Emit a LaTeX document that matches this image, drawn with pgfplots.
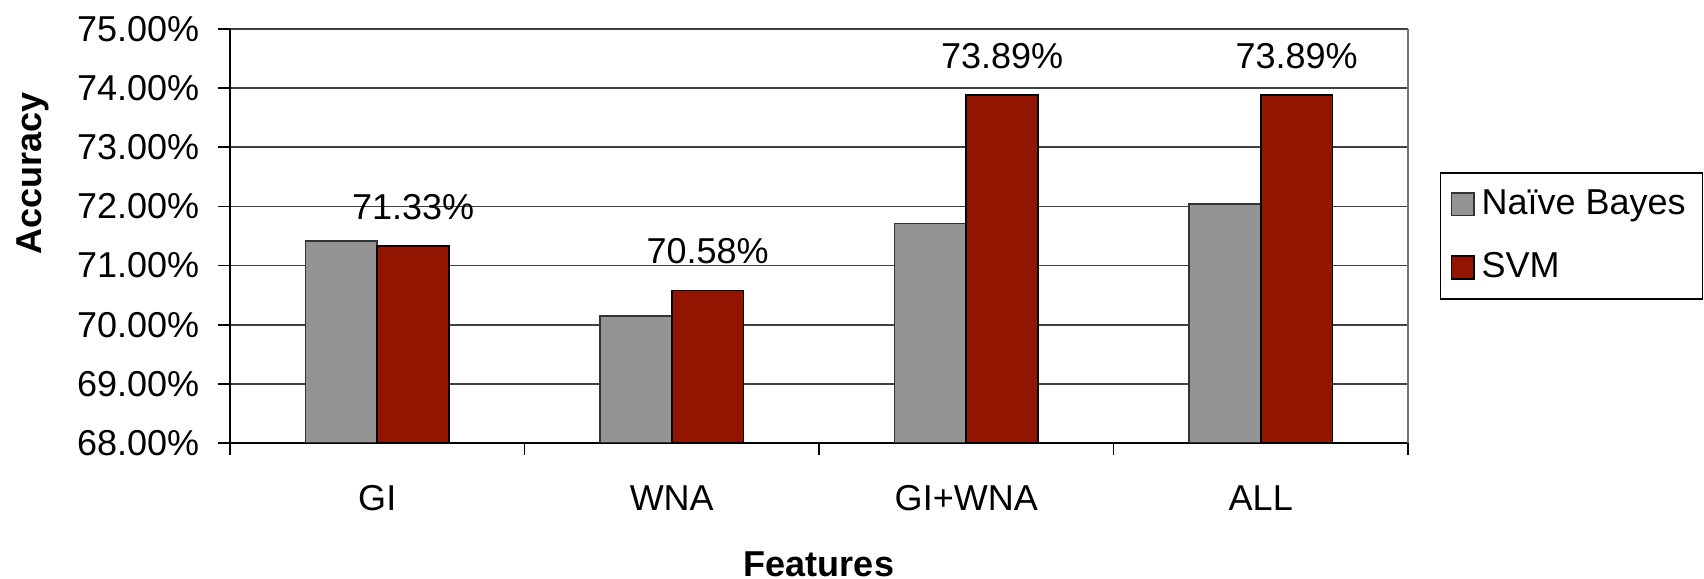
\documentclass[border=0pt]{standalone}
\usepackage{pgfplots}
\pgfplotsset{compat=1.18}
\usepackage{fontspec}
\setmainfont{Liberation Sans}
\definecolor{nbgray}{RGB}{148,148,148}
\definecolor{svmred}{RGB}{146,21,0}
\begin{document}
\begin{tikzpicture}
\begin{axis}[
  scale only axis,
  width=353.4pt, height=124.2pt,
  ybar=0pt,
  bar width=0.2435,
  xmin=-0.5, xmax=3.5,
  ymin=68, ymax=75,
  axis x line*=bottom,
  axis y line*=left,
  axis line style={black, line width=0.6pt},
  xtick={0,1,2,3},
  xticklabels={GI,WNA,GI+WNA,ALL},
  minor xtick={-0.5,0.5,1.5,2.5,3.5},
  ytick={68,69,...,75},
  tick align=outside,
  major tick length=3.6pt,
  minor tick length=3.6pt,
  x tick style={draw=none},
  minor x tick style={draw=black, line width=0.5pt},
  y tick style={black, line width=0.5pt},
  ymajorgrids,
  grid style={black!75, line width=0.5pt},
  /pgf/number format/assume math mode=true,
  yticklabel={\pgfmathprintnumber[fixed,fixed zerofill,precision=2]{\tick}\%},
  tick label style={font=\fontsize{10.8}{13}\selectfont},
  yticklabel style={xshift=-2.1pt},
  xticklabel style={yshift=-5.7pt},
  every axis y label/.style={at={(axis description cs:-0.167,0.65)}, rotate=90, anchor=center, font=\fontsize{10.8}{13}\selectfont\bfseries},
  every axis x label/.style={at={(axis description cs:0.5,0)}, yshift=-36.3pt, anchor=center, font=\fontsize{10.8}{13}\selectfont\bfseries},
  ylabel={Accuracy},
  xlabel={Features},
  legend style={at={(axis description cs:1.027,0.655)}, anchor=north west, draw=black, line width=0.5pt,
    font=\fontsize{10.8}{13}\selectfont, row sep=6pt, inner xsep=3pt, inner ysep=3pt},
  legend cell align=left,
  legend image code/.code={\draw[#1, line width=0.5pt] (0pt,-3.4pt) rectangle (6.8pt,3.4pt);},
  after end axis/.code={\draw[black!55, line width=0.5pt] (rel axis cs:1,0) -- (rel axis cs:1,1);},
]
\addplot[fill=nbgray, draw=black!80, line width=0.5pt] coordinates {(0,71.42) (1,70.15) (2,71.71) (3,72.04)};
\addlegendentry{Naïve Bayes}
\addplot[fill=svmred, draw=black, line width=0.5pt,
  nodes near coords={\pgfmathprintnumber[fixed,fixed zerofill,precision=2]{\pgfplotspointmeta}\%},
  every node near coord/.append style={anchor=center, yshift=11.7pt, black, font=\fontsize{10.8}{13}\selectfont}]
  coordinates {(0,71.33) (1,70.58) (2,73.89) (3,73.89)};
\addlegendentry{SVM}
\end{axis}
\path (current axis.south west) ++(-69pt,-40.8pt) coordinate (bbsw);
\pgfresetboundingbox
\path (bbsw) rectangle ++(511.2pt,173.7pt);
\end{tikzpicture}
\end{document}
